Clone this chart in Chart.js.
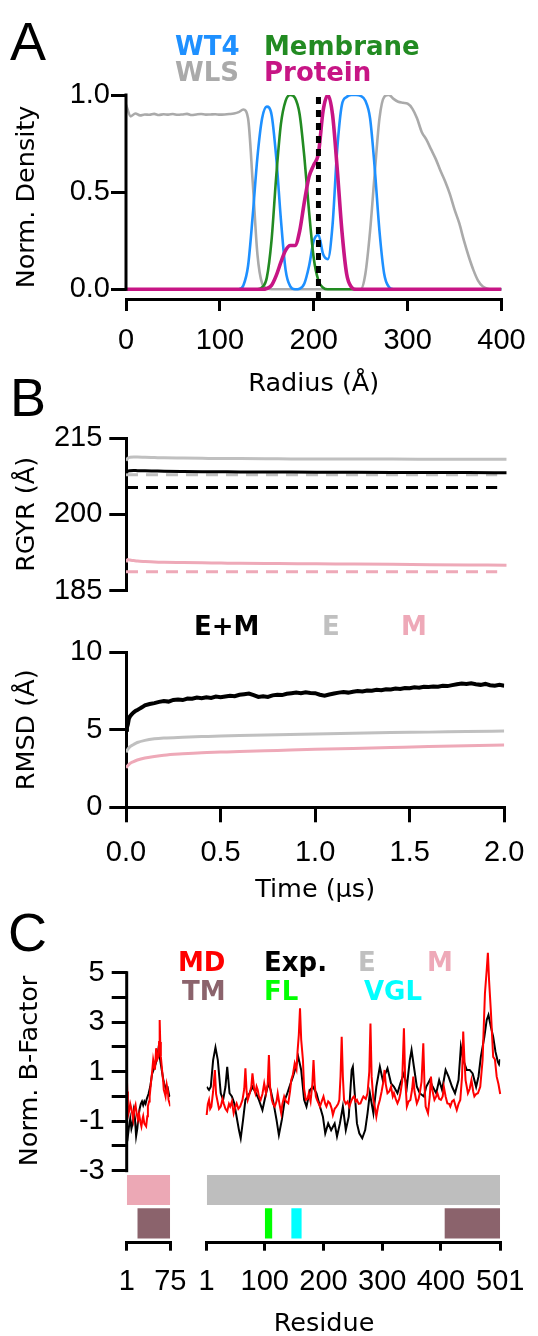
<!DOCTYPE html>
<html>
<head>
<meta charset="utf-8">
<title>Density, RGYR / RMSD and B-factor panels</title>
<script src="https://cdn.jsdelivr.net/npm/chart.js@4.4.1/dist/chart.umd.min.js"></script>
<style>
  body { margin: 0; background: #fff; }
  #page { position: relative; width: 538px; height: 1336px; overflow: hidden; background: #fff; }
  canvas { position: absolute; }
  .txt { position: absolute; white-space: nowrap; line-height: 1; }
  .panel { font: 54px 'Liberation Sans'; color: #000; }
  .key { font: bold 26px 'DejaVu Sans'; }
  .axis-title { font: 25.5px 'DejaVu Sans'; color: #000; line-height: 1.2; }
</style>
</head>
<body>
<div id="page">
  <canvas id="densityChart" width="538" height="400" style="left:0;top:0"></canvas>
  <canvas id="rgyrChart" width="538" height="230" style="left:0;top:400px"></canvas>
  <canvas id="rmsdChart" width="538" height="300" style="left:0;top:620px"></canvas>
  <canvas id="bfacLeftChart" width="200" height="406" style="left:0;top:930px"></canvas>
  <canvas id="bfacRightChart" width="353" height="406" style="left:185px;top:930px"></canvas>

  <!-- panel letters -->
  <div class="txt panel" style="left:10px;top:10px">A</div>
  <div class="txt panel" style="left:10px;top:366px">B</div>
  <div class="txt panel" style="left:8px;top:901px">C</div>

  <!-- A legend -->
  <div class="txt key" style="left:175px;top:31px;color:#1e90ff">WT4</div>
  <div class="txt key" style="left:264px;top:31px;color:#228b22">Membrane</div>
  <div class="txt key" style="left:175px;top:57px;color:#aaaaaa">WLS</div>
  <div class="txt key" style="left:264px;top:57px;color:#c71585">Protein</div>

  <!-- B legend -->
  <div class="txt key" style="left:194px;top:611px;color:#000">E+M</div>
  <div class="txt key" style="left:322px;top:611px;color:#c0c0c0">E</div>
  <div class="txt key" style="left:401px;top:611px;color:#eea9b8">M</div>

  <!-- C legend -->
  <div class="txt key" style="left:178px;top:947px;color:#ff0000">MD</div>
  <div class="txt key" style="left:264px;top:947px;color:#000">Exp.</div>
  <div class="txt key" style="left:358px;top:947px;color:#c0c0c0">E</div>
  <div class="txt key" style="left:427px;top:947px;color:#eea9b8">M</div>
  <div class="txt key" style="left:182px;top:976px;color:#8b636c">TM</div>
  <div class="txt key" style="left:264px;top:976px;color:#00ff00">FL</div>
  <div class="txt key" style="left:364px;top:976px;color:#00ffff">VGL</div>

  <!-- C axis titles -->
  <div class="txt axis-title" style="left:27.5px;top:1071px;transform:translate(-50%,-50%) rotate(-90deg)">Norm. B-Factor</div>
  <div class="txt axis-title" style="left:324px;top:1322px;transform:translate(-50%,-50%)">Residue</div>
</div>

<script>
// ---- A: radial density profiles ----
const radius = [0, 5, 10, 15, 20, 25, 30, 35, 40, 45, 50, 55, 60, 65, 70, 75, 80, 85, 90, 95,
  100, 105, 110, 115, 120, 125, 130, 135, 140, 145, 150, 155, 160, 165, 170, 175, 180, 185, 190, 195,
  200, 205, 210, 215, 220, 225, 230, 235, 240, 245, 250, 255, 260, 265, 270, 275, 280, 285, 290, 295,
  300, 305, 310, 315, 320, 325, 330, 335, 340, 345, 350, 355, 360, 365, 370, 375, 380, 385, 390, 395, 400];
const densWLS = [0.95, 0.89, 0.905, 0.895, 0.9, 0.898, 0.903, 0.897, 0.901, 0.899, 0.902, 0.898, 0.9, 0.903, 0.897, 0.9, 0.902, 0.899, 0.9, 0.901,
  0.899, 0.9, 0.902, 0.905, 0.912, 0.925, 0.88, 0.55, 0.18, 0.03, 0.005, 0, 0, 0, 0, 0, 0, 0, 0, 0,
  0, 0, 0, 0, 0, 0, 0, 0, 0, 0, 0, 0.08, 0.3, 0.6, 0.88, 0.99, 1.0, 0.98, 0.965, 0.96,
  0.955, 0.93, 0.88, 0.81, 0.77, 0.72, 0.67, 0.61, 0.555, 0.49, 0.41, 0.34, 0.25, 0.17, 0.1, 0.045, 0.015, 0.003, 0, 0, 0];
const densWT4 = [0, 0, 0, 0, 0, 0, 0, 0, 0, 0, 0, 0, 0, 0, 0, 0, 0, 0, 0, 0,
  0, 0, 0, 0, 0, 0.02, 0.12, 0.38, 0.68, 0.88, 0.94, 0.9, 0.68, 0.36, 0.1, 0.015, 0, 0.003, 0.03, 0.12,
  0.25, 0.28, 0.18, 0.155, 0.33, 0.72, 0.95, 0.99, 1.0, 1.0, 0.995, 0.97, 0.88, 0.62, 0.3, 0.08, 0.012, 0, 0, 0,
  0, 0, 0, 0, 0, 0, 0, 0, 0, 0, 0, 0, 0, 0, 0, 0, 0, 0, 0, 0, 0];
const densMembrane = [0, 0, 0, 0, 0, 0, 0, 0, 0, 0, 0, 0, 0, 0, 0, 0, 0, 0, 0, 0,
  0, 0, 0, 0, 0, 0, 0, 0, 0, 0.01, 0.06, 0.25, 0.58, 0.85, 0.97, 1.0, 0.985, 0.9, 0.68, 0.4,
  0.16, 0.045, 0.008, 0, 0, 0, 0, 0, 0, 0, 0, 0, 0, 0, 0, 0, 0, 0, 0, 0,
  0, 0, 0, 0, 0, 0, 0, 0, 0, 0, 0, 0, 0, 0, 0, 0, 0, 0, 0, 0, 0];
const densProtein = [0, 0, 0, 0, 0, 0, 0, 0, 0, 0, 0, 0, 0, 0, 0, 0, 0, 0, 0, 0,
  0, 0, 0, 0, 0, 0, 0, 0, 0, 0, 0.004, 0.02, 0.07, 0.14, 0.2, 0.225, 0.225, 0.3, 0.45, 0.58,
  0.64, 0.7, 0.92, 1.0, 0.9, 0.62, 0.3, 0.08, 0.012, 0, 0, 0, 0, 0, 0, 0, 0, 0, 0, 0,
  0, 0, 0, 0, 0, 0, 0, 0, 0, 0, 0, 0, 0, 0, 0, 0, 0, 0, 0, 0, 0];
const markerRadius = [205, 205];
const markerSpan = [-0.05, 1.0];
const radiusTicks = [0, 100, 200, 300, 400];
const densityTicks = [0, 0.5, 1];

// ---- B: radius of gyration and RMSD over time ----
const timeCoarse = [0, 0.01, 0.02, 0.04, 0.06, 0.1, 0.15, 0.2, 0.3, 0.4, 0.5, 0.6, 0.8, 1.0, 1.2, 1.4, 1.6, 1.8, 2.0];
const rgyrEM = [208.3, 208.55, 208.62, 208.65, 208.62, 208.6, 208.55, 208.5, 208.45, 208.42, 208.4, 208.38, 208.35, 208.32, 208.3, 208.28, 208.25, 208.24, 208.22];
const rgyrE = [210.6, 211.1, 211.25, 211.3, 211.3, 211.25, 211.2, 211.15, 211.1, 211.05, 211.0, 211.0, 210.95, 210.9, 210.9, 210.9, 210.88, 210.86, 210.85];
const rgyrM = [190.6, 191.1, 191.0, 190.9, 190.8, 190.7, 190.6, 190.55, 190.5, 190.45, 190.4, 190.35, 190.3, 190.25, 190.2, 190.15, 190.1, 190.05, 190.0];
const refTime = [0, 1.95];
const rgyrRefEM = [205.3, 205.3];
const rgyrRefE = [207.8, 207.8];
const rgyrRefM = [188.7, 188.7];
const rgyrTicks = [185, 200, 215];

const timeFine = [0, 0.005, 0.01, 0.015, 0.02, 0.03, 0.04, 0.05, 0.06, 0.07, 0.08, 0.09,
  0.1, 0.125, 0.15, 0.175, 0.2, 0.225, 0.25, 0.275, 0.3, 0.325, 0.35, 0.375, 0.4, 0.425, 0.45, 0.475,
  0.5, 0.525, 0.55, 0.575, 0.6, 0.625, 0.65, 0.675, 0.7, 0.725, 0.75, 0.775, 0.8, 0.825, 0.85, 0.875,
  0.9, 0.925, 0.95, 0.975, 1.0, 1.025, 1.05, 1.075, 1.1, 1.125, 1.15, 1.175, 1.2, 1.225, 1.25, 1.275,
  1.3, 1.325, 1.35, 1.375, 1.4, 1.425, 1.45, 1.475, 1.5, 1.525, 1.55, 1.575, 1.6, 1.625, 1.65, 1.675,
  1.7, 1.725, 1.75, 1.775, 1.8, 1.825, 1.85, 1.875, 1.9, 1.925, 1.95, 1.975, 2.0];
const rmsdEM = [5.0, 5.15, 5.35, 5.7, 5.85, 6.0, 6.12, 6.22, 6.28, 6.35, 6.42, 6.5,
  6.58, 6.66, 6.72, 6.80, 6.86, 6.82, 6.93, 6.96, 6.92, 7.02, 7.00, 7.08, 7.04, 7.10, 7.06, 7.14,
  7.10, 7.15, 7.20, 7.17, 7.26, 7.30, 7.34, 7.24, 7.12, 7.16, 7.12, 7.22, 7.26, 7.24, 7.32, 7.36,
  7.40, 7.36, 7.42, 7.38, 7.36, 7.26, 7.20, 7.28, 7.34, 7.40, 7.44, 7.40, 7.46, 7.50, 7.47, 7.54,
  7.52, 7.58, 7.55, 7.62, 7.60, 7.66, 7.63, 7.70, 7.68, 7.74, 7.71, 7.78, 7.76, 7.80, 7.78, 7.84,
  7.82, 7.88, 7.94, 7.98, 7.96, 8.00, 7.94, 7.90, 7.96, 7.88, 7.84, 7.90, 7.84];
const rmsdE = [3.55, 3.75, 3.9, 4.05, 4.18, 4.32, 4.42, 4.47, 4.52, 4.56, 4.6, 4.63, 4.68, 4.73, 4.78, 4.82, 4.85, 4.89, 4.92];
const rmsdM = [2.55, 2.7, 2.82, 2.95, 3.05, 3.18, 3.28, 3.36, 3.45, 3.52, 3.56, 3.6, 3.67, 3.74, 3.8, 3.86, 3.92, 3.97, 4.02];
const timeTicks = [0, 0.5, 1, 1.5, 2];
const rmsdTicks = [0, 5, 10];

// ---- C: normalised B-factors per residue ----
const mdLeftRes = [1, 2, 3, 5, 7, 9, 12, 14, 16, 18, 20, 22, 24, 26, 28, 29, 31, 34, 36, 37, 39, 40,
  42, 44, 46, 48, 49, 51, 53, 55, 56, 57, 58, 59, 61, 63, 64, 66, 67, 69, 71, 72, 74, 75];
const mdLeft = [1.0, 0.2, -0.8, -0.6, -0.3, -0.5, -0.94, -0.5, -0.34, -0.7, -0.94, -0.7, -1.0, -1.21, -0.9, -0.8, -1.1, -1.21, -0.8, -0.4, -0.2, 0.0,
  0.5, 0.94, 1.48, 1.2, 1.08, 1.95, 1.5, 1.61, 2.2, 3.09, 2.2, 1.61, 1.08, 0.6, 0.27, 0.1, 0.0, 0.47, 0.2, -0.13, -0.3, -0.4];
const expLeftRes = [1, 3, 5, 7, 9, 11, 13, 15, 17, 19, 21, 23, 25, 27, 29, 31, 33, 35,
  38, 41, 44, 47, 50, 53, 55, 57, 59, 61, 63, 65, 67, 69, 71, 73, 75];
const expLeft = [-1.4, -1.6, -1.2, -0.9, -1.3, -1.1, -0.6, -0.9, -1.6, -1.3, -0.8, -0.5, -0.3, -0.2, -0.35, -0.2, -0.3, -0.1,
  0.1, 0.4, 0.9, 1.1, 1.3, 1.6, 1.94, 1.6, 1.3, 1.0, 0.7, 0.5, 0.35, 0.2, 0.3, 0.05, 0.0];

const mdRightRes = [
  1, 3, 5, 7, 9, 12, 15, 17, 19, 22,
  25, 28, 30, 33, 36, 39, 41, 44, 47, 50,
  52, 55, 58, 62, 65, 67, 69, 71, 74, 77,
  79, 82, 84, 86, 88, 90, 93, 96, 99, 102,
  105, 107, 109, 112, 114, 117, 120, 122, 125, 128,
  130, 133, 136, 140, 143, 145, 148, 151, 154, 156,
  158, 160, 162, 165, 167, 170, 173, 175, 178, 181,
  183, 185, 187, 189, 192, 194, 197, 200, 203, 205,
  208, 211, 214, 216, 219, 222, 225, 227, 229, 231,
  233, 235, 238, 241, 244, 247, 250, 252, 255, 257,
  260, 263, 266, 268, 272, 275, 278, 280, 282, 285,
  288, 290, 293, 296, 299, 302, 304, 306, 309, 312,
  315, 318, 320, 323, 326, 329, 331, 334, 337, 339,
  342, 345, 348, 351, 353, 355, 359, 362, 364, 367,
  370, 372, 374, 378, 381, 383, 385, 389, 392, 394,
  397, 400, 403, 405, 408, 411, 414, 416, 419, 422,
  425, 427, 430, 433, 436, 438, 440, 442, 446, 449,
  452, 455, 457, 460, 463, 467, 471, 475, 478, 480,
  482, 485, 489, 492, 495, 498, 501];
const mdRight = [
  -0.75, -0.3, -0.14, -0.5, -0.41, 0.2, 1.07, 0.1, -0.14, -0.5,
  -0.41, -0.1, -0.28, -0.5, -0.6, -0.3, -0.41, -0.2, -0.68, -0.4,
  -0.28, -0.5, -0.41, -0.14, 0.3, 1.14, 0.2, -0.14, 0.1, 0.39,
  0.93, 0.3, 0.13, 0.4, 0.26, 0.0, -0.14, 0.1, 0.53, 0.13,
  0.5, 1.67, 0.4, -0.14, -0.3, -0.41, -0.2, 0.13, -0.3, -0.68,
  -0.3, 0.0, -0.2, -0.28, 0.2, 0.66, 0.9, 1.34, 1.1, 1.88,
  2.5, 3.56, 2.3, 1.47, 0.3, -0.14, -0.1, 0.13, -0.2, 0.5,
  1.47, 0.5, 0.0, -0.14, -0.3, -0.41, -0.2, 0.0, -0.3, -0.41,
  -0.2, -0.28, -0.5, -0.75, -0.5, -0.41, -0.3, -0.14, 0.8, 2.41,
  0.8, -0.14, -0.3, -0.21, -0.41, -0.2, -0.05, 0.0, -0.2, -0.14,
  -0.3, -0.28, -0.1, 0.0, -0.1, 0.13, 1.0, 2.95, 0.8, -0.14,
  -0.5, -0.82, -0.4, -0.14, 0.2, 0.6, 1.07, 0.5, 0.13, 0.2,
  0.39, 0.0, 0.13, -0.1, -0.28, -0.1, 0.13, 0.6, 2.75, 0.8,
  -0.41, -0.2, -0.14, 0.3, 0.8, 0.2, -0.28, -0.1, 0.13, 0.6,
  2.15, 0.5, -0.41, -0.68, 0.0, 0.8, 0.3, -0.14, 0.0, 0.13,
  -0.1, -0.14, 0.0, 0.39, 0.0, -0.28, -0.3, -0.41, -0.2, -0.14,
  -0.4, -0.55, -0.3, -0.14, 0.8, 2.62, 1.5, 0.66, 0.13, 0.3,
  0.66, 0.2, 0.0, 0.1, 0.13, 0.39, 1.47, 4.17, 5.11, 5.8,
  4.7, 3.49, 1.6, 1.5, 0.8, 0.5, 0.1];
const expRightRes = [
  1, 5, 8, 12, 16, 20, 25, 29, 33, 36,
  40, 44, 48, 52, 56, 59, 63, 67, 74, 79,
  85, 90, 96, 101, 106, 110, 115, 120, 124, 129,
  134, 138, 142, 148, 153, 157, 162, 167, 171, 177,
  182, 188, 194, 199, 203, 208, 213, 219, 223, 228,
  233, 238, 243, 248, 250, 254, 257, 261, 266, 271,
  275, 279, 285, 290, 296, 301, 309, 315, 320, 326,
  331, 337, 342, 347, 350, 354, 359, 364, 371, 375,
  381, 386, 392, 397, 402, 408, 413, 419, 424, 430,
  434, 438, 444, 449, 454, 460, 464, 468, 474, 478,
  481, 485, 489, 493, 497, 499, 501];
const expRight = [
  0.39, 0.26, 0.39, 1.47, 1.98, 1.47, 0.13, -0.14, 0.39, 1.2,
  0.13, 0.0, -0.28, -0.82, -1.36, -1.69, -0.95, -0.14, 0.13, 0.39,
  0.13, -0.14, -0.55, 0.0, 0.53, 0.26, -0.28, -0.95, -1.56, -0.95,
  -0.14, 0.1, 0.39, 0.8, 1.2, 1.6, 1.07, -0.14, -0.41, 0.26,
  0.39, 0.13, -0.41, -0.82, -1.49, -1.09, -1.36, -1.09, -1.62, -1.09,
  -0.41, -1.36, -0.82, 1.07, 1.2, -0.14, -1.09, -1.49, -1.69, -1.36,
  -0.68, 0.13, -0.68, 0.39, 1.2, 0.66, 1.14, 0.53, 0.39, 0.13,
  0.53, 0.93, 0.39, 1.47, 1.88, 1.2, 0.39, 0.13, 0.0, 0.39,
  0.66, 0.39, 0.13, 0.66, 0.26, 1.07, 0.8, 0.39, 0.13, 0.66,
  2.01, 1.47, 1.07, 1.07, 0.93, 0.39, 0.8, 1.6, 2.41, 3.09,
  3.29, 2.82, 2.41, 1.8, 1.4, 1.3, 1.5];

// residue ranges of the annotation tracks
const spanM = [1, 75];
const spanE = [1, 501];
const spanTM_M = [19, 75];
const spanTM_E = [406, 501];
const spanFL = [100, 113];
const spanVGL = [145, 163];
const residueTicksM = [1, 75];
const residueTicksE = [1, 100, 200, 300, 400, 501];
const bfacTicks = [-3, -2, -1, 0, 1, 2, 3, 4, 5];

// ---- helpers ----
const pts = (xs, ys) => xs.map((x, i) => ({ x: x, y: ys[i] }));
const tickFont = { family: 'Liberation Sans', size: 29 };
const titleFont = { family: 'DejaVu Sans', size: 25.5 };

// y axis line drawn only between two values (axis standoff)
const axisLine = {
  id: 'axisLine',
  afterDraw(chart, args, opts) {
    if (!opts || !opts.range) return;
    const { ctx, chartArea } = chart;
    const y = chart.scales.y;
    ctx.save();
    ctx.strokeStyle = '#000';
    ctx.lineWidth = 3;
    ctx.beginPath();
    ctx.moveTo(chartArea.left, y.getPixelForValue(opts.range[0]) + 1.5);
    ctx.lineTo(chartArea.left, y.getPixelForValue(opts.range[1]) - 1.5);
    ctx.stroke();
    ctx.restore();
  }
};

function xAxis(o) {
  return {
    type: 'linear', min: o.min, max: o.max, display: true,
    afterFit: s => { s.height = o.height; },
    afterBuildTicks: s => { s.ticks = o.ticks.map(v => ({ value: v })); },
    grid: { display: true, drawOnChartArea: false, drawTicks: true, tickLength: o.tick, color: '#000', lineWidth: 3 },
    border: { display: true, color: '#000', width: 3 },
    ticks: { font: tickFont, color: '#000', padding: o.pad, maxRotation: 0, autoSkip: false,
             callback: o.fmt || (v => String(v)) },
    title: o.title ? { display: true, text: o.title, font: titleFont, color: '#000', padding: { top: 0, bottom: o.titlePad } }
                   : { display: false }
  };
}

function yAxis(o) {
  return {
    type: 'linear', min: o.min, max: o.max, display: o.hidden ? false : true,
    afterFit: s => { s.width = o.width; },
    afterBuildTicks: s => { s.ticks = o.ticks.map(v => ({ value: v })); },
    grid: { display: true, drawOnChartArea: false, drawTicks: true, tickLength: o.tick, color: '#000', lineWidth: 3 },
    border: { display: o.border, color: '#000', width: 3 },
    ticks: { font: tickFont, color: '#000', padding: o.pad, autoSkip: false,
             callback: o.fmt || (v => String(v)) },
    title: o.title ? { display: true, text: o.title, font: titleFont, color: '#000', padding: { top: 12.2, bottom: 0 } }
                   : { display: false }
  };
}

function baseOptions(padding, scales, extra) {
  return {
    responsive: false,
    animation: false,
    events: [],
    layout: { padding: padding, autoPadding: false },
    elements: { point: { radius: 0 }, line: { fill: false, borderCapStyle: 'butt' } },
    plugins: Object.assign({ legend: { display: false }, tooltip: { enabled: false } }, extra || {}),
    scales: scales
  };
}

const smooth = { cubicInterpolationMode: 'monotone' };
const jagged = { tension: 0 };

// ---- A ----
new Chart(document.getElementById('densityChart'), {
  type: 'line',
  data: {
    datasets: [
      { data: pts(markerRadius, markerSpan), borderColor: '#000', borderWidth: 5, borderDash: [7, 6], ...jagged },
      { data: pts(radius, densProtein), borderColor: '#c71585', borderWidth: 3.6, ...smooth },
      { data: pts(radius, densMembrane), borderColor: '#228b22', borderWidth: 2.6, ...smooth },
      { data: pts(radius, densWT4), borderColor: '#1e90ff', borderWidth: 2.6, ...smooth },
      { data: pts(radius, densWLS), borderColor: '#aaaaaa', borderWidth: 2.6, ...smooth }
    ]
  },
  options: baseOptions({ top: 95, right: 31.3, left: 0, bottom: 0 }, {
    x: xAxis({ min: 0, max: 400, height: 101, ticks: radiusTicks, tick: 12, pad: 12.3, title: 'Radius (Å)', titlePad: 0 }),
    y: yAxis({ min: -0.05, max: 1, width: 126, ticks: densityTicks, tick: 15, pad: 1, border: false,
               fmt: v => v.toFixed(1), title: 'Norm. Density' })
  }, { axisLine: { range: [0, 1] } }),
  plugins: [axisLine]
});

// ---- B: RGYR ----
new Chart(document.getElementById('rgyrChart'), {
  type: 'line',
  data: {
    datasets: [
      { data: pts(timeCoarse, rgyrEM), borderColor: '#000', borderWidth: 3, ...smooth },
      { data: pts(refTime, rgyrRefEM), borderColor: '#000', borderWidth: 3, borderDash: [12, 8], ...jagged },
      { data: pts(timeCoarse, rgyrE), borderColor: '#c0c0c0', borderWidth: 3, ...smooth },
      { data: pts(refTime, rgyrRefE), borderColor: '#c0c0c0', borderWidth: 3, borderDash: [12, 8], ...jagged },
      { data: pts(timeCoarse, rgyrM), borderColor: '#eea9b8', borderWidth: 3, ...smooth },
      { data: pts(refTime, rgyrRefM), borderColor: '#eea9b8', borderWidth: 3, borderDash: [12, 8], ...jagged }
    ]
  },
  options: baseOptions({ top: 38.3, right: 31.3, left: 0, bottom: 39.5 }, {
    x: { type: 'linear', min: 0, max: 2, display: false },
    y: yAxis({ min: 185, max: 215, width: 126, ticks: rgyrTicks, tick: 16.7, pad: 7, border: true, title: 'RGYR (Å)' })
  })
});

// ---- B: RMSD ----
new Chart(document.getElementById('rmsdChart'), {
  type: 'line',
  data: {
    datasets: [
      { data: pts(timeFine, rmsdEM), borderColor: '#000', borderWidth: 4, ...jagged },
      { data: pts(timeCoarse, rmsdE), borderColor: '#c0c0c0', borderWidth: 3, ...smooth },
      { data: pts(timeCoarse, rmsdM), borderColor: '#eea9b8', borderWidth: 3, ...smooth }
    ]
  },
  options: baseOptions({ top: 32.3, right: 31.3, left: 0, bottom: 0 }, {
    x: xAxis({ min: 0, max: 2, height: 112.7, ticks: timeTicks, tick: 15, pad: 13.6, fmt: v => v.toFixed(1),
               title: 'Time (µs)', titlePad: 14.7 }),
    y: yAxis({ min: 0, max: 10, width: 126, ticks: rmsdTicks, tick: 16.7, pad: 7, border: true, title: 'RMSD (Å)' })
  })
});

// ---- C ----
const bfacMin = -5.91, bfacMax = 5;
const trackRow1 = [-3.175, -4.39];  // top / bottom of the E and M rows, in axis units
const trackRow2 = [-4.52, -5.74];   // top / bottom of the TM, FL and VGL row
const track = (span, row, color) => ({
  data: pts(span, [row[0], row[0]]), borderWidth: 0, borderColor: color,
  backgroundColor: color, fill: { value: row[1] }, ...jagged
});
const oddLabel = v => (Math.abs(v) % 2 === 1 ? String(v) : '');

new Chart(document.getElementById('bfacLeftChart'), {
  type: 'line',
  data: {
    datasets: [
      { data: pts(mdLeftRes, mdLeft), borderColor: '#ff0000', borderWidth: 2, ...jagged },
      { data: pts(expLeftRes, expLeft), borderColor: '#000', borderWidth: 2, ...jagged },
      track(spanM, trackRow1, '#eca8b5'),
      track(spanTM_M, trackRow2, '#8b636c')
    ]
  },
  options: baseOptions({ top: 42.7, right: 28.3, left: 0, bottom: 0 }, {
    x: xAxis({ min: 1, max: 75, height: 93.3, ticks: residueTicksM, tick: 8, pad: 13.6 }),
    y: yAxis({ min: bfacMin, max: bfacMax, width: 126.7, ticks: bfacTicks, tick: 15, pad: 7, border: false, fmt: oddLabel })
  }, { axisLine: { range: [-3, 5] } }),
  plugins: [axisLine]
});

new Chart(document.getElementById('bfacRightChart'), {
  type: 'line',
  data: {
    datasets: [
      // the MD peak near residue 480 rises above the top of the axis, as in the source figure
      { data: pts(mdRightRes, mdRight), borderColor: '#ff0000', borderWidth: 2, clip: false, ...jagged },
      { data: pts(expRightRes, expRight), borderColor: '#000', borderWidth: 2, ...jagged },
      track(spanE, trackRow1, '#bebebe'),
      track(spanTM_E, trackRow2, '#8b636c'),
      track(spanFL, trackRow2, '#00ff00'),
      track(spanVGL, trackRow2, '#00ffff')
    ]
  },
  options: baseOptions({ top: 42.7, right: 31.3, left: 17.3, bottom: 0 }, {
    x: xAxis({ min: 1, max: 501, height: 93.3, ticks: residueTicksE, tick: 8, pad: 13.6 }),
    y: yAxis({ min: bfacMin, max: bfacMax, width: 0, ticks: bfacTicks, tick: 0, pad: 0, border: false, hidden: true })
  })
});
</script>
</body>
</html>
